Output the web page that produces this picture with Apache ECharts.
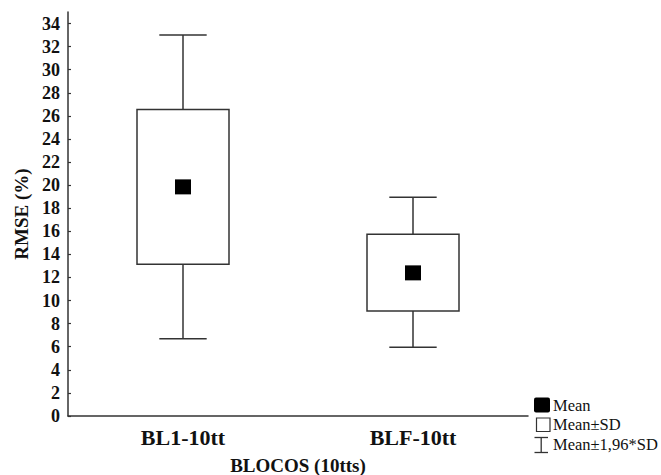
<!DOCTYPE html>
<html>
<head>
<meta charset="utf-8">
<script src="https://cdn.jsdelivr.net/npm/echarts@6/dist/echarts.min.js"></script>
<style>
  html, body { margin: 0; padding: 0; background: #fff; }
  #chart { width: 661px; height: 475px; }
</style>
</head>
<body>
<div id="chart"></div>
<script>
// Blocks on the x axis
const categories = ['BL1-10tt', 'BLF-10tt'];
// RMSE (%) per block
const means = [19.85, 12.4];
const sdLow = [13.15, 9.1];      // Mean - SD
const sdHigh = [26.55, 15.75];   // Mean + SD
const ciLow = [6.7, 5.95];       // Mean - 1,96*SD
const ciHigh = [33.0, 18.95];    // Mean + 1,96*SD
// y tick labels
const yTicks = [0, 2, 4, 6, 8, 10, 12, 14, 16, 18, 20, 22, 24, 26, 28, 30, 32, 34];
const legendLabels = ['Mean', 'Mean\u00b1SD', 'Mean\u00b11,96*SD'];

const FONT = "'Liberation Serif', 'Times New Roman', serif";
const INK = '#333';

const boxData = categories.map((c, i) => [i, sdLow[i], sdHigh[i]]);
const whiskerData = categories.map((c, i) => [i, ciLow[i], ciHigh[i], sdLow[i], sdHigh[i]]);
const meanData = categories.map((c, i) => [i, means[i]]);

const chart = echarts.init(document.getElementById('chart'), null, { renderer: 'svg' });

chart.setOption({
  animation: false,
  backgroundColor: '#fff',
  textStyle: { fontFamily: FONT },
  grid: { left: 68, right: 133, top: 12, bottom: 59, containLabel: false, outerBoundsMode: 'none' },
  xAxis: {
    type: 'category',
    data: categories,
    boundaryGap: true,
    name: 'BLOCOS (10tts)',
    nameLocation: 'middle',
    nameGap: 40,
    nameTextStyle: { fontFamily: FONT, fontWeight: 'bold', fontSize: 19, lineHeight: 18, color: '#111' },
    axisLine: { lineStyle: { color: INK, width: 1.5 } },
    axisTick: { inside: true, length: 3, alignWithLabel: true, lineStyle: { color: INK, width: 1.2 } },
    axisLabel: { fontFamily: FONT, fontWeight: 'bold', fontSize: 22, color: '#111', margin: 10 },
    splitLine: { show: false }
  },
  yAxis: {
    type: 'value',
    min: 0,
    max: 35,
    interval: 2,
    name: 'RMSE (%)',
    nameLocation: 'middle',
    nameGap: 36,
    nameRotate: 90,
    nameTextStyle: { fontFamily: FONT, fontWeight: 'bold', fontSize: 19, color: '#111' },
    axisLine: { show: true, lineStyle: { color: INK, width: 1.5 } },
    axisTick: { show: true, inside: true, length: 3, customValues: yTicks, lineStyle: { color: INK, width: 1.2 } },
    axisLabel: { fontFamily: FONT, fontWeight: 'bold', fontSize: 18, color: '#111', margin: 8, customValues: yTicks },
    splitLine: { show: false }
  },
  series: [
    {
      name: legendLabels[2],
      type: 'custom',
      data: whiskerData,
      z: 2,
      renderItem: function (params, api) {
        const i = api.value(0);
        const band = api.size([1, 0])[0];
        const capHalf = band * 0.103;
        const lo = api.coord([i, api.value(1)]);
        const hi = api.coord([i, api.value(2)]);
        const bLo = api.coord([i, api.value(3)]);
        const bHi = api.coord([i, api.value(4)]);
        const style = { stroke: INK, lineWidth: 1.5, fill: null };
        return {
          type: 'group',
          children: [
            { type: 'line', shape: { x1: hi[0], y1: hi[1], x2: bHi[0], y2: bHi[1] }, style },
            { type: 'line', shape: { x1: hi[0] - capHalf, y1: hi[1], x2: hi[0] + capHalf, y2: hi[1] }, style },
            { type: 'line', shape: { x1: lo[0], y1: lo[1], x2: bLo[0], y2: bLo[1] }, style },
            { type: 'line', shape: { x1: lo[0] - capHalf, y1: lo[1], x2: lo[0] + capHalf, y2: lo[1] }, style }
          ]
        };
      }
    },
    {
      name: legendLabels[1],
      type: 'custom',
      data: boxData,
      z: 3,
      renderItem: function (params, api) {
        const i = api.value(0);
        const band = api.size([1, 0])[0];
        const half = band * 0.2;
        const lo = api.coord([i, api.value(1)]);
        const hi = api.coord([i, api.value(2)]);
        return {
          type: 'rect',
          shape: { x: lo[0] - half, y: hi[1], width: half * 2, height: lo[1] - hi[1] },
          style: { stroke: INK, lineWidth: 1.5, fill: '#fff' }
        };
      }
    },
    {
      name: legendLabels[0],
      type: 'scatter',
      data: meanData,
      symbol: 'rect',
      symbolSize: [16, 15],
      z: 4,
      itemStyle: { color: '#000', opacity: 1 }
    }
  ],
  graphic: [
    {
      type: 'group',
      left: 532,
      top: 397,
      children: [
        { type: 'rect', shape: { x: 1, y: 1, width: 16, height: 15, r: 2 }, style: { fill: '#000' } },
        { type: 'text', x: 20, y: 9, style: { text: legendLabels[0], font: "16.5px " + FONT, fill: '#111', textVerticalAlign: 'middle' } },
        { type: 'rect', shape: { x: 3.5, y: 21.5, width: 13.5, height: 13.5 }, style: { fill: '#fff', stroke: INK, lineWidth: 1.2 } },
        { type: 'text', x: 20, y: 28, style: { text: legendLabels[1], font: "16.5px " + FONT, fill: '#111', textVerticalAlign: 'middle' } },
        { type: 'line', shape: { x1: 1.5, y1: 41, x2: 15, y2: 41 }, style: { stroke: INK, lineWidth: 1.3 } },
        { type: 'line', shape: { x1: 8.2, y1: 41, x2: 8.2, y2: 56 }, style: { stroke: INK, lineWidth: 1.3 } },
        { type: 'line', shape: { x1: 1.5, y1: 56, x2: 15, y2: 56 }, style: { stroke: INK, lineWidth: 1.3 } },
        { type: 'text', x: 20, y: 48, style: { text: legendLabels[2], font: "16.5px " + FONT, fill: '#111', textVerticalAlign: 'middle' } }
      ]
    }
  ]
});
</script>
</body>
</html>
